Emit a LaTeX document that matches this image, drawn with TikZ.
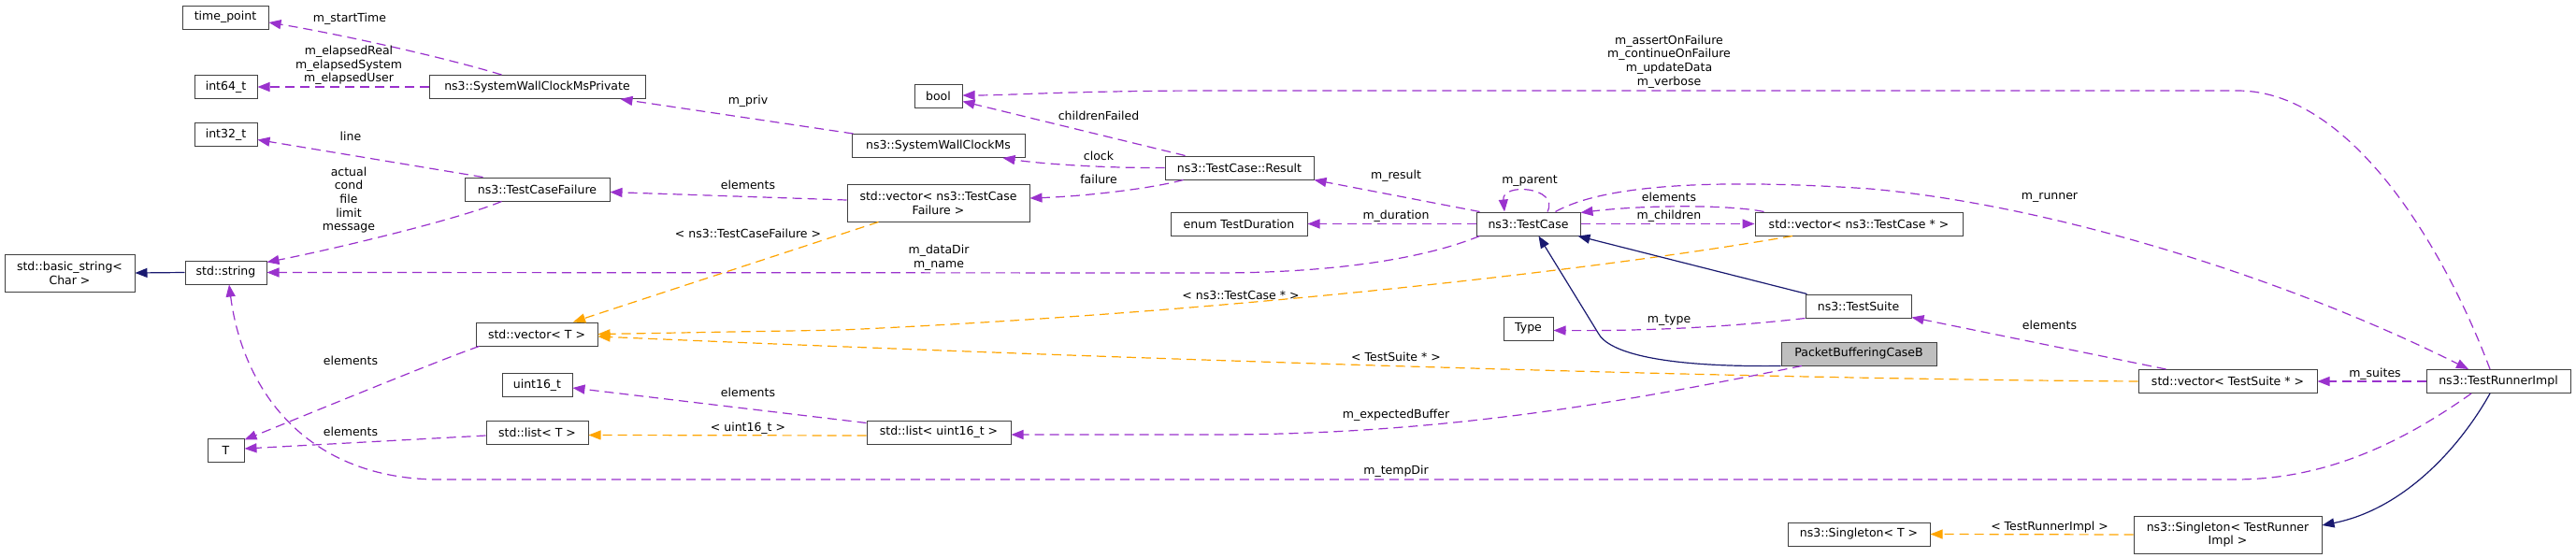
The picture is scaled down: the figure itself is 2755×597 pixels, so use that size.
\documentclass[tikz,border=0pt]{standalone}
\usepackage{fontspec}
\setmainfont{DejaVu Sans}
\usetikzlibrary{arrows.meta,calc}
\definecolor{memc}{HTML}{9A32CD}
\definecolor{tplc}{HTML}{FFA500}
\definecolor{inhc}{HTML}{191970}
\definecolor{boxc}{HTML}{404040}
\definecolor{hlc}{HTML}{BFBFBF}
\begin{document}
\begin{tikzpicture}[x=1pt,y=-1pt,
  box/.style={draw=boxc, line width=1pt, fill=white, inner sep=0pt, align=center,
    font=\fontsize{12.5}{14.7}\selectfont, text=black, minimum height=25pt},
  lbl/.style={inner sep=0pt, align=center, font=\fontsize{12.5}{14.7}\selectfont, text=black},
  mem/.style={draw=memc, line width=1.2pt, dash pattern=on 10pt off 6pt,
    -{Triangle[length=13pt,width=10pt]}},
  tpl/.style={mem, draw=tplc},
  inh/.style={draw=inhc, line width=1.2pt, -{Triangle[length=13pt,width=10pt]}},
]
\useasboundingbox (0,0) rectangle (2755,597);
\fill[white] (0,0) rectangle (2755,597);

% nodes
\node[box, minimum width=92pt] (tp) at (241,18.5) {time\_point};
\node[box, minimum width=67pt] (i64) at (241.5,93) {int64\_t};
\node[box, minimum width=67pt] (i32) at (241.5,144) {int32\_t};
\node[box, minimum width=139pt, minimum height=40pt] (bstr) at (74.5,292) {std::basic\_string<\\Char >};
\node[box, minimum width=87pt] (str) at (241.5,291.5) {std::string};
\node[box, minimum width=39pt] (T) at (241.5,481.5) {T};
\node[box, minimum width=231pt] (swcmp) at (574.5,93) {ns3::SystemWallClockMsPrivate};
\node[box, minimum width=155pt] (tcf) at (574.5,202.5) {ns3::TestCaseFailure};
\node[box, minimum width=130pt] (vecT) at (574,357.5) {std::vector< T >};
\node[box, minimum width=75pt] (u16) at (574.5,412) {uint16\_t};
\node[box, minimum width=109pt] (listT) at (574.5,462.5) {std::list< T >};
\node[box, minimum width=51pt] (bool) at (1003.5,102.5) {bool};
\node[box, minimum width=185pt] (swcm) at (1003.5,156) {ns3::SystemWallClockMs};
\node[box, minimum width=195pt, minimum height=40pt] (vecTCF) at (1003.5,217) {std::vector< ns3::TestCase\\Failure >};
\node[box, minimum width=154pt] (listU16) at (1004,462.5) {std::list< uint16\_t >};
\node[box, minimum width=159pt] (result) at (1325.5,179.5) {ns3::TestCase::Result};
\node[box, minimum width=146pt] (dur) at (1325,239.5) {enum TestDuration};
\node[box, minimum width=111pt] (tc) at (1634.5,239.5) {ns3::TestCase};
\node[box, minimum width=53pt] (type) at (1634.5,351.5) {Type};
\node[box, minimum width=222pt] (vecTC) at (1988,239.5) {std::vector< ns3::TestCase * >};
\node[box, minimum width=113pt] (ts) at (1987.5,327.5) {ns3::TestSuite};
\node[box, minimum width=166pt, fill=hlc] (pbcb) at (1988,378.5) {PacketBufferingCaseB};
\node[box, minimum width=152pt] (singT) at (1988,571.5) {ns3::Singleton< T >};
\node[box, minimum width=191pt] (vecTS) at (2382.5,408) {std::vector< TestSuite * >};
\node[box, minimum width=154pt] (tri) at (2672,408) {ns3::TestRunnerImpl};
\node[box, minimum width=201pt, minimum height=40pt] (singTRI) at (2382.5,572) {ns3::Singleton< TestRunner\\Impl >};

% edges
\draw[mem] ($(swcmp.north west)+(78,0)$) .. controls (470,60) and (360,36) .. ($(tp.east)+(0,5.5)$);
\draw[mem] (swcmp.west) -- (i64.east);
\draw[mem] ($(swcm.north west)+(2,0)$) -- ($(swcmp.south east)+(-27,0)$);
\draw[mem] ($(tcf.north west)+(20,0)$) -- ($(i32.east)+(0,5.5)$);
\draw[mem] ($(tcf.south west)+(40,0)$) .. controls (490,235) and (350,268) .. ($(str.north east)+(0,2)$);
\draw[inh] (str.west) -- (bstr.east);
\draw[mem] ($(tc.south west)+(4,0)$) .. controls (1520,278) and (1420,292) .. (1300,292) -- (str.east);
\draw[mem] ($(vecTCF.west)+(0,-3)$) -- ($(tcf.east)+(0,3)$);
\draw[tpl] ($(vecTCF.south west)+(34,0)$) -- ($(vecT.north)+(39,0)$);
\draw[mem] ($(vecT.south west)+(4,0)$) .. controls (470,385) and (320,447) .. ($(T.north east)+(0,2)$);
\draw[mem] ($(listT.west)+(0,3.5)$) -- ($(T.east)+(0,-1.5)$);
\draw[mem] ($(listU16.west)+(0,-10)$) -- ($(u16.east)+(0,3)$);
\draw[tpl] ($(listU16.west)+(0,3.5)$) -- ($(listT.east)+(0,3)$);
\draw[mem] ($(tri.south)+(-29,0)$) .. controls (2560,480) and (2480,513) .. (2390,513) -- (470,513) .. controls (330,513) and (260,420) .. ($(str.south)+(3.5,0)$);
\draw[mem] ($(tri.north)+(-9,0)$) .. controls (2620,280) and (2520,97) .. (2393,97) -- (1300,97) .. controls (1150,97) and (1080,102) .. ($(bool.east)+(0,-0.5)$);
\draw[mem] ($(result.north west)+(22,0)$) -- ($(bool.east)+(0,6)$);
\draw[mem] (result.west) .. controls (1180,180) and (1110,175) .. ($(swcm.south east)+(-24,0)$);
\draw[mem] ($(result.south west)+(20,0)$) .. controls (1230,202) and (1160,210) .. ($(vecTCF.east)+(0,-5)$);
\draw[mem] ($(tc.north west)+(4,0)$) -- (result.south east);
\draw[mem] (tc.west) -- (dur.east);
\draw[mem] ($(tc.north)+(20.5,0)$) .. controls (1668,200) and (1606,195) .. ($(tc.north)+(-25.5,0)$);
\draw[mem] ($(vecTC.north west)+(10,0)$) .. controls (1850,219) and (1760,219) .. ($(tc.north east)+(0,1)$);
\draw[mem] (tc.east) -- (vecTC.west);
\draw[tpl] ($(vecTC.south)+(-71,0)$) .. controls (1700,290) and (1300,335) .. (900,353) -- (vecT.east);
\draw[tpl] (vecTS.west) .. controls (1800,405) and (1100,380) .. ($(vecT.east)+(0,2.5)$);
\draw[inh] ($(ts.north west)+(2,0)$) -- ($(tc.south east)+(-3,0)$);
\draw[inh] (pbcb.south west) .. controls (1780,393) and (1720,378) .. (1709,356) -- ($(tc.south)+(11,0)$);
\draw[mem] (ts.south west) .. controls (1830,352) and (1740,354) .. ($(type.east)+(0,2)$);
\draw[mem] ($(pbcb.south)+(-61,0)$) .. controls (1760,425) and (1560,465) .. (1300,465) -- ($(listU16.east)+(0,2.5)$);
\draw[mem] ($(vecTS.north west)+(30,0)$) -- ($(ts.south east)+(0,-1)$);
\draw[mem] (tri.west) -- (vecTS.east);
\draw[mem] ($(tc.north)+(29,0)$) .. controls (1720,195) and (1850,192) .. (2000,202) .. controls (2200,220) and (2450,300) .. ($(tri.north)+(-32,0)$);
\draw[inh] ($(tri.south)+(-9,0)$) .. controls (2630,480) and (2570,545) .. ($(singTRI.east)+(0,-10)$);
\draw[tpl] (singTRI.west) -- (singT.east);

% labels
\node[lbl] (l1) at (374,20) {m\_startTime};
\node[lbl] (l2) at (373,70) {m\_elapsedReal\\m\_elapsedSystem\\m\_elapsedUser};
\node[lbl] (l3) at (800,108) {m\_priv};
\node[lbl] (l4) at (375,146) {line};
\node[lbl] (l5) at (373,214) {actual\\cond\\file\\limit\\message};
\node[lbl] (l6) at (800,198) {elements};
\node[lbl] (l7) at (800,250) {< ns3::TestCaseFailure >};
\node[lbl] (l8) at (375,386) {elements};
\node[lbl] (l9) at (375,462) {elements};
\node[lbl] (l10) at (800,420) {elements};
\node[lbl] (l11) at (800,458) {< uint16\_t >};
\node[lbl] (l12) at (1004,276) {m\_dataDir\\m\_name};
\node[lbl] (l13) at (1175,124) {childrenFailed};
\node[lbl] (l14) at (1175,167) {clock};
\node[lbl] (l15) at (1175,192) {failure};
\node[lbl] (l16) at (1493,188) {m\_result};
\node[lbl] (l17) at (1493,231) {m\_duration};
\node[lbl] (l18) at (1636,194) {m\_parent};
\node[lbl] (l19) at (1785,211) {elements};
\node[lbl] (l20) at (1785,231) {m\_children};
\node[lbl] (l21) at (1785,66) {m\_assertOnFailure\\m\_continueOnFailure\\m\_updateData\\m\_verbose};
\node[lbl] (l22) at (1327,316) {< ns3::TestCase * >};
\node[lbl] (l23) at (1493,382) {< TestSuite * >};
\node[lbl] (l24) at (1785,343) {m\_type};
\node[lbl] (l25) at (1493,444) {m\_expectedBuffer};
\node[lbl] (l26) at (1493,504) {m\_tempDir};
\node[lbl] (l27) at (2192,348) {elements};
\node[lbl] (l28) at (2540,400) {m\_suites};
\node[lbl] (l29) at (2192,211) {m\_runner};
\node[lbl] (l30) at (2192,564) {< TestRunnerImpl >};
\end{tikzpicture}
\end{document}
